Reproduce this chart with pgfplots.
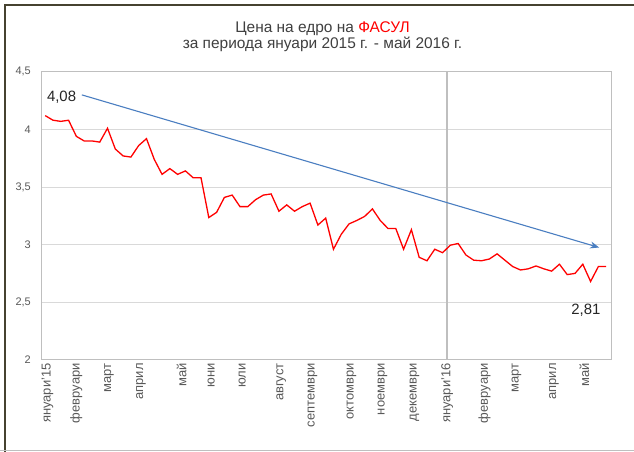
\documentclass[border=0pt]{standalone}
\usepackage{pgfplots}
\pgfplotsset{compat=1.18}
\usepackage{fontspec}
\setmainfont{Liberation Sans}
\usetikzlibrary{arrows.meta}
\definecolor{txt}{RGB}{89,89,89}
\definecolor{gridc}{RGB}{217,217,217}
\definecolor{axc}{RGB}{191,191,191}
\definecolor{trend}{RGB}{74,126,193}
\definecolor{framec}{RGB}{70,66,48}
\pgfplotstableread{
i v
0 4.12
1 4.08
2 4.07
3 4.08
4 3.94
5 3.90
6 3.90
7 3.89
8 4.01
9 3.83
10 3.77
11 3.76
12 3.86
13 3.92
14 3.74
15 3.61
16 3.66
17 3.61
18 3.64
19 3.58
20 3.58
21 3.235
22 3.28
23 3.41
24 3.43
25 3.33
26 3.33
27 3.39
28 3.43
29 3.44
30 3.29
31 3.345
32 3.29
33 3.33
34 3.36
35 3.17
36 3.23
37 2.96
38 3.09
39 3.18
40 3.21
41 3.245
42 3.31
43 3.21
44 3.14
45 3.14
46 2.96
47 3.13
48 2.89
49 2.86
50 2.96
51 2.93
52 2.995
53 3.01
54 2.91
55 2.865
56 2.86
57 2.875
58 2.92
59 2.865
60 2.81
61 2.78
62 2.79
63 2.815
64 2.79
65 2.77
66 2.83
67 2.74
68 2.75
69 2.83
70 2.68
71 2.81
72 2.81
}\prices
\begin{document}
\begin{tikzpicture}[x=1bp,y=1bp]
\useasboundingbox (0,0) rectangle (634,452);
\fill[white] (0,0) rectangle (634,452);
\draw[framec, line width=1.5bp] (5,0) -- (5,447) -- (634,447);
\draw[axc, line width=1bp] (0,1) -- (634,1);
\node[font=\fontsize{15.5}{16}\selectfont, text=black!75] at (322.5,423) {Цена на едро на \textcolor{red}{ФАСУЛ}};
\node[font=\fontsize{15.5}{16}\selectfont, text=black!75] at (322.5,407.5) {за периода януари 2015 г. - май 2016 г.};
\begin{axis}[
  at={(53,80)}, anchor=south west, scale only axis,
  width=570bp, height=288bp,
  xmin=-0.5, xmax=72.66, ymin=2, ymax=4.5,
  ytick={2,2.5,3,3.5,4,4.5},
  /pgf/number format/.cd, use comma, fixed, assume math mode=true,
  /pgfplots/.cd,
  xtick={0.3,4,8.2,12.3,17.5,21.3,25.3,30.3,34.3,39.3,43.3,47.4,51.6,56.4,60.5,65.3,69.2},
  xticklabels={януари'15,февруари,март,април,май,юни,юли,август,септември,октомври,ноември,декември,януари'16,февруари,март,април,май},
  x tick label style={rotate=90, anchor=east, font=\fontsize{13}{14}\selectfont, text=txt},
  y tick label style={font=\fontsize{11}{13}\selectfont, text=txt, xshift=-7bp},
  major tick length=0pt,
  ymajorgrids, grid style={draw=gridc, line width=1bp},
  axis line style={draw=axc, line width=1bp},
  extra x ticks={51.6}, extra x tick labels={},
  extra x tick style={grid=major, major grid style={draw=axc, line width=1.5bp}},
  clip=false,
]
\addplot[red, line width=1.3bp, mark=none] table[x=i, y=v] {\prices};
\addplot[trend, line width=1.1bp, -{Stealth[length=9bp,width=7bp]}] coordinates {(4.7,4.30) (71.1,2.975)};
\node[font=\fontsize{15}{16}\selectfont, text=black!85] at (axis cs:2.1,4.28) {4,08};
\node[font=\fontsize{15}{16}\selectfont, text=black!85] at (axis cs:69.4,2.43) {2,81};
\end{axis}
\end{tikzpicture}
\end{document}
